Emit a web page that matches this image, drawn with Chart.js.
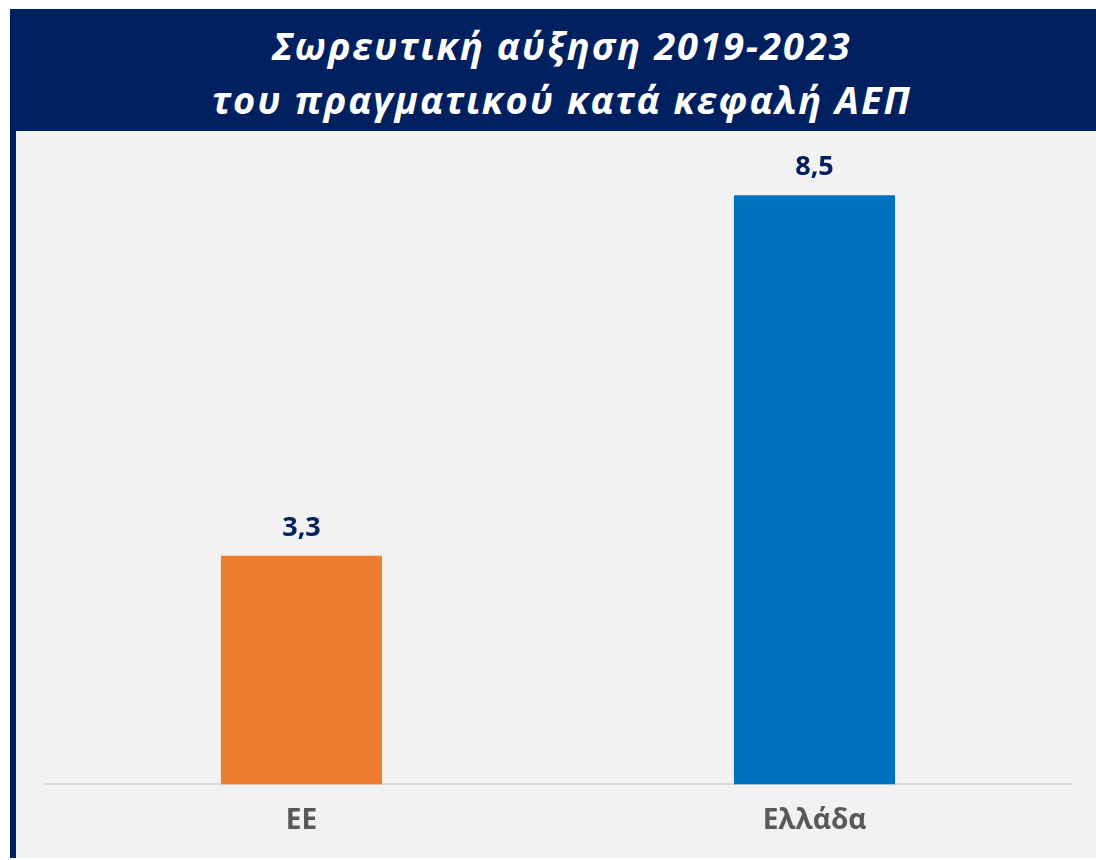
<!DOCTYPE html>
<html>
<head>
<meta charset="utf-8">
<script src="https://cdn.jsdelivr.net/npm/chart.js@4/dist/chart.umd.min.js"></script>
<style>
    body { margin: 0; background: #ffffff; width: 1096px; height: 860px; position: relative; overflow: hidden; }
    #header {
        position: absolute; left: 10px; top: 9px; width: 1086px; height: 122px;
        background: #002060; color: #ffffff;
        font-family: "Open Sans", sans-serif; font-weight: bold; font-style: italic;
        font-size: 38px; letter-spacing: 2px; line-height: 54px; text-align: center;
        box-sizing: border-box; padding-top: 9px; padding-left: 18px;
    }
    #stripe { position: absolute; left: 10px; top: 131px; width: 6px; height: 727px; background: #002060; }
    #panel { position: absolute; left: 16px; top: 131px; width: 1080px; height: 727px; background: #f2f2f2; }
</style>
</head>
<body>
<div id="header">Σωρευτική αύξηση 2019-2023<br>του πραγματικού κατά κεφαλή ΑΕΠ</div>
<div id="stripe"></div>
<div id="panel"><canvas id="chart"></canvas></div>
<script>
const categories = ['ΕΕ', 'Ελλάδα'];
const growth = [3.3, 8.5];
const barColors = ['#ED7D31', '#0070C0'];

// value above each bar, decimal comma
const valueLabels = {
    id: 'valueLabels',
    afterDatasetsDraw(chart) {
        const ctx = chart.ctx;
        const meta = chart.getDatasetMeta(0);
        ctx.save();
        ctx.fillStyle = '#002060';
        ctx.font = 'bold 27px "Open Sans", sans-serif';
        ctx.textAlign = 'center';
        ctx.textBaseline = 'alphabetic';
        meta.data.forEach((bar, i) => {
            const text = growth[i].toFixed(1).replace('.', ',');
            ctx.fillText(text, bar.x, bar.y - 20);
        });
        ctx.restore();
    }
};

const ctx = document.getElementById('chart').getContext('2d');
const chart = new Chart(ctx, {
    type: 'bar',
    data: {
        labels: categories,
        datasets: [{
            data: growth,
            backgroundColor: barColors,
            borderWidth: 0,
            barPercentage: 0.314,
            categoryPercentage: 1
        }]
    },
    options: {
        responsive: true,
        maintainAspectRatio: false,
        devicePixelRatio: 1,
        animation: false,
        layout: {
            padding: { left: 29, right: 25, top: 2, bottom: 0 }
        },
        scales: {
            x: {
                grid: { display: false, drawTicks: false, tickLength: 0 },
                border: { display: true, color: '#d9d9d9', width: 2 },
                ticks: {
                    color: '#595959',
                    padding: 20,
                    font: { family: '"Open Sans", sans-serif', size: 28, weight: 'bold' }
                }
            },
            y: {
                display: false,
                min: 0,
                max: 9.4
            }
        },
        plugins: {
            legend: { display: false },
            tooltip: { enabled: false }
        }
    },
    plugins: [valueLabels]
});
</script>
</body>
</html>
